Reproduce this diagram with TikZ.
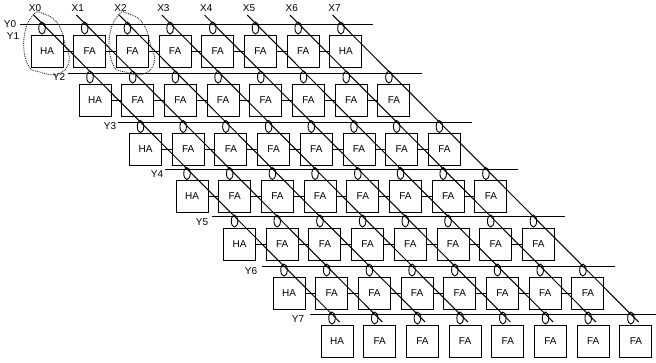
\documentclass[tikz,border=0pt]{standalone}
\usepackage{fontspec}
\setmainfont{Liberation Sans}
\usepackage{tikz}
\usetikzlibrary{positioning,shapes}

\tikzset{
	adder/.style={rectangle, draw, line width=1pt, minimum size=32pt, inner sep=0pt, font=\fontsize{10}{11}\selectfont},
	carry/.style={ellipse, draw, line width=0.9pt, minimum width=6.5pt, minimum height=12pt, inner sep=0pt},
	wire/.style={line width=1pt},
	tag/.style={inner sep=0pt, font=\fontsize{10}{11}\selectfont},
	blob/.style={densely dotted, line width=0.9pt, black!85}
}

\begin{document}
\begin{tikzpicture}[x=1pt, y=-1pt]
	\useasboundingbox (0,0) rectangle (656,362);

	% adder rows
	\foreach \r/\x/\y in {1/47/51, 2/95/100, 3/145.5/149.5, 4/192/196.5, 5/239.5/244, 6/289/293, 7/337/341} {
		\foreach \c in {0,...,7} {
			\ifnum\c=0 \def\lab{HA}\else\def\lab{FA}\fi
			\ifnum\r\c=17 \def\lab{HA}\fi
			\node[adder] (B\r\c) at (\x+42.7*\c, \y) {\lab};
			\node[carry, above=0pt of B\r\c, xshift=-5pt] (C\r\c) {};
		}
	}

	% links between neighbours
	\foreach \r in {1,...,6} {
		\foreach \c [count=\d from 1] in {0,...,6} {
			\draw[wire] (B\r\c) -- (B\r\d);
		}
	}

	% multiplier lines
	\foreach \r/\xa/\xb/\y in {0/20/373/24.7, 2/68/422/73, 3/118/472/122.7, 4/165/518/169.3, 5/212/565/216.7, 6/262/615/266.3, 7/310/656/314} {
		\coordinate (Ya\r) at (\xa, \y);
		\coordinate (Yb\r) at (\xb, \y);
		\draw[wire] (Ya\r) -- (Yb\r);
	}

	% multiplicand lines
	\foreach \i in {0,...,7} {
		\coordinate (Xa\i) at (33.7+42.7*\i, 15);
		\coordinate (Xb\i) at (339.7+42.7*\i, 322);
		\draw[wire] (Xa\i) -- (Xb\i);
		\node[tag] (X\i) at (35+42.8*\i, 8) {X\i};
	}

	\node[tag] (Y0) at (10, 24) {Y0};
	\node[tag] (Y1) at (13, 36) {Y1};
	\node[tag] (Y2) at (59, 77) {Y2};
	\node[tag] (Y3) at (110, 126.5) {Y3};
	\node[tag] (Y4) at (157, 174.5) {Y4};
	\node[tag] (Y5) at (202, 222) {Y5};
	\node[tag] (Y6) at (251, 271) {Y6};
	\node[tag] (Y7) at (298, 319) {Y7};

	% dotted groups
	\foreach \s in {0,85.3} {
		\draw[blob, xshift=\s pt] plot[smooth cycle, tension=0.8] coordinates {(24,38) (33,15) (44,14) (58,24) (65,44) (69,62) (58,74) (40,72) (28,65)};
	}
\end{tikzpicture}
\end{document}
